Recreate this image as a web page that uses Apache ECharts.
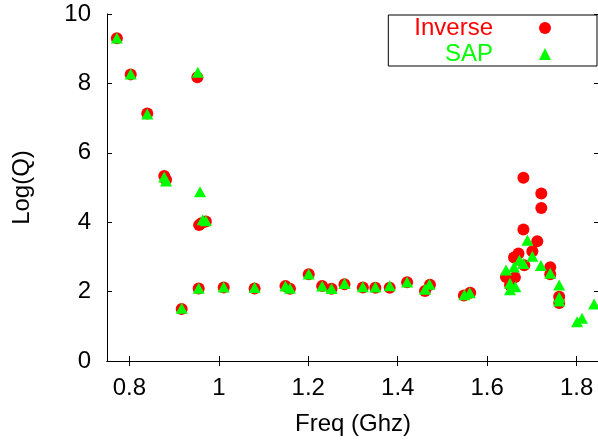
<!DOCTYPE html>
<html>
<head>
<meta charset="utf-8">
<script src="https://cdn.jsdelivr.net/npm/echarts@6/dist/echarts.min.js"></script>
<style>html,body{margin:0;padding:0;background:#fff}#c{width:598px;height:442px}</style>
</head>
<body>
<div id="c"></div>
<script>
// Data: [freq (GHz), log(Q)]
var inverse = [
  [0.772,9.30],[0.803,8.26],[0.840,7.13],[0.878,5.33],[0.882,5.22],[0.917,1.50],
  [0.952,8.18],[0.955,2.09],[0.956,3.92],[0.961,3.97],[0.971,4.02],[1.011,2.12],
  [1.080,2.09],[1.149,2.16],[1.159,2.08],[1.201,2.50],[1.231,2.16],[1.252,2.08],
  [1.281,2.21],[1.322,2.12],[1.350,2.11],[1.382,2.11],[1.421,2.27],[1.461,2.02],
  [1.472,2.20],[1.548,1.89],[1.562,1.97],[1.642,2.42],[1.651,2.19],[1.660,2.98],
  [1.662,2.41],[1.670,3.10],[1.681,5.28],[1.681,3.79],[1.683,2.76],[1.701,3.16],
  [1.712,3.45],[1.721,4.83],[1.721,4.41],[1.741,2.70],[1.741,2.50],[1.761,1.85],
  [1.761,1.67]
];
var sap = [
  [0.772,9.31],[0.803,8.27],[0.840,7.12],[0.878,5.30],[0.882,5.19],[0.917,1.52],
  [0.953,8.32],[0.955,2.10],[0.958,4.88],[0.964,4.07],[0.971,4.04],[1.011,2.13],
  [1.080,2.12],[1.149,2.16],[1.159,2.10],[1.201,2.51],[1.231,2.16],[1.252,2.09],
  [1.281,2.23],[1.322,2.14],[1.350,2.13],[1.382,2.17],[1.421,2.28],[1.461,2.07],
  [1.471,2.21],[1.549,1.91],[1.561,1.97],[1.642,2.62],[1.651,2.24],[1.651,2.05],
  [1.660,2.71],[1.663,2.14],[1.672,2.90],[1.681,2.81],[1.690,3.48],[1.701,3.02],
  [1.720,2.75],[1.741,2.53],[1.761,2.19],[1.761,1.84],[1.761,1.73],[1.801,1.13],
  [1.812,1.23],[1.839,1.64]
];
var xTicks = [0.8, 1.0, 1.2, 1.4, 1.6, 1.8];
var seriesNames = ['Inverse', 'SAP'];
var RED = '#ff0000', GREEN = '#00ff00';

var FONT = "'Liberation Sans', Arial, Helvetica, sans-serif";
var chart = echarts.init(document.getElementById('c'), null, {renderer: 'canvas'});
var lineStyle = {color: '#000', width: 1};
var tickIn = {show: true, inside: true, length: 5, lineStyle: lineStyle};
chart.setOption({
  animation: false,
  backgroundColor: '#fff',
  textStyle: {fontFamily: FONT},
  grid: {left: 107, right: -1, top: 14, bottom: 81, containLabel: false, outerBoundsMode: 'none'},
  legend: {
    data: [
      {name: seriesNames[0], textStyle: {color: RED}},
      {name: seriesNames[1], textStyle: {color: GREEN}}
    ],
    orient: 'vertical',
    align: 'right',
    right: 1,
    top: 15,
    itemWidth: 12,
    itemHeight: 12,
    itemGap: 2,
    padding: [1, 46, 0, 26],
    borderColor: '#000',
    borderWidth: 1,
    backgroundColor: '#fff',
    selectedMode: false,
    textStyle: {fontSize: 24, fontFamily: FONT, padding: [0, 41, 0, 0]}
  },
  xAxis: [{
    type: 'value', min: 0.75, max: 1.85, position: 'bottom',
    name: 'Freq (Ghz)', nameLocation: 'middle', nameGap: 51,
    nameTextStyle: {fontSize: 24, color: '#000', fontFamily: FONT},
    axisLine: {show: true, lineStyle: lineStyle},
    axisTick: {show: true, inside: true, length: 5, lineStyle: lineStyle, customValues: xTicks},
    axisLabel: {show: true, customValues: xTicks, fontSize: 24, color: '#000', margin: 15, fontFamily: FONT,
      formatter: function (v) { return String(+(+v).toFixed(1)); }},
    splitLine: {show: false}
  }, {
    type: 'value', min: 0.75, max: 1.85, position: 'top',
    axisLine: {show: true, lineStyle: lineStyle},
    axisTick: {show: true, inside: true, length: 5, lineStyle: lineStyle, customValues: xTicks},
    axisLabel: {show: false, customValues: xTicks},
    splitLine: {show: false}
  }],
  yAxis: [{
    type: 'value', min: 0, max: 10, interval: 2, position: 'left',
    name: 'Log(Q)', nameLocation: 'middle', nameGap: 73, nameRotate: 90,
    nameTextStyle: {fontSize: 24, color: '#000', fontFamily: FONT},
    axisLine: {show: true, lineStyle: lineStyle},
    axisTick: tickIn,
    axisLabel: {show: true, fontSize: 24, color: '#000', margin: 16, fontFamily: FONT},
    splitLine: {show: false}
  }, {
    type: 'value', min: 0, max: 10, interval: 2, position: 'right',
    axisLine: {show: false},
    axisTick: tickIn,
    axisLabel: {show: false},
    splitLine: {show: false}
  }],
  series: [{
    name: seriesNames[0], type: 'scatter', xAxisIndex: 0, yAxisIndex: 0,
    symbol: 'circle', symbolSize: 12,
    itemStyle: {color: RED, opacity: 1},
    data: inverse, z: 2
  }, {
    name: seriesNames[1], type: 'scatter', xAxisIndex: 0, yAxisIndex: 0,
    symbol: 'triangle', symbolSize: [12, 11],
    itemStyle: {color: GREEN, opacity: 1},
    data: sap, z: 3
  }]
});
</script>
</body>
</html>
